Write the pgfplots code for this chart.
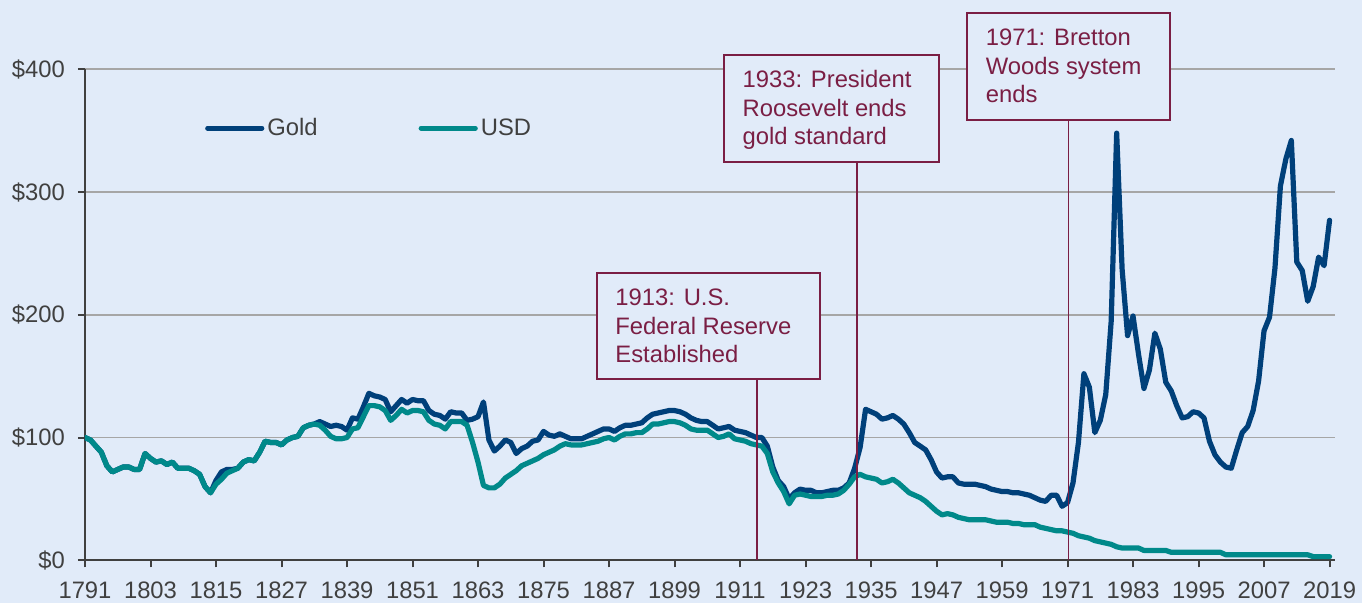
\documentclass[border=0pt]{standalone}
\usepackage{fontspec}
\setmainfont{Liberation Sans}
\usepackage{pgfplots}
\usepackage{pgfplotstable}
\pgfplotsset{compat=1.18}
\definecolor{bg}{RGB}{225,235,249}
\definecolor{cgold}{RGB}{0,64,122}
\definecolor{cusd}{RGB}{0,137,138}
\definecolor{cnote}{RGB}{122,30,68}
\definecolor{ctext}{RGB}{64,64,64}
\definecolor{cgrid}{RGB}{166,166,166}

% purchasing power, 1791 = 100
\pgfplotstableread{
year gold usd
1791 100 100
1792 98 98
1793 93 93
1794 88 88
1795 77 77
1796 72 72
1797 74 74
1798 76 76
1799 76 76
1800 74 74
1801 74 74
1802 87 87
1803 83 83
1804 80 80
1805 81 81
1806 78 78
1807 80 80
1808 75 75
1809 75 75
1810 75 75
1811 73 73
1812 70 70
1813 60 60
1814 55 55
1815 65 62
1816 72 66
1817 74 71
1818 74 73
1819 75 75
1820 80 80
1821 82 82
1822 81 81
1823 88 88
1824 97 97
1825 96 96
1826 96 96
1827 94 94
1828 98 98
1829 100 100
1830 101 101
1831 108 108
1832 110 110
1833 111 111
1834 113 110
1835 111 106
1836 109 101
1837 110 99
1838 109 99
1839 106 100
1840 116 107
1841 115 108
1842 125 117
1843 136 126
1844 134 126
1845 133 125
1846 131 122
1847 121 114
1848 126 118
1849 131 123
1850 128 120
1851 131 122
1852 130 122
1853 130 121
1854 122 114
1855 119 111
1856 118 110
1857 115 107
1858 121 113
1859 120 113
1860 120 113
1861 114 110
1862 115 96
1863 117 80
1864 129 61
1865 98 59
1866 89 59
1867 93 62
1868 98 67
1869 96 70
1870 87 73
1871 91 77
1872 93 79
1873 97 81
1874 98 83
1875 105 86
1876 102 88
1877 101 90
1878 103 93
1879 101 95
1880 99 94
1881 99 94
1882 99 94
1883 101 95
1884 103 96
1885 105 97
1886 107 99
1887 107 100
1888 105 98
1889 108 101
1890 110 103
1891 110 103
1892 111 104
1893 112 104
1894 116 107
1895 119 111
1896 120 111
1897 121 112
1898 122 113
1899 122 113
1900 121 112
1901 119 110
1902 116 107
1903 114 106
1904 113 106
1905 113 106
1906 110 103
1907 107 100
1908 108 101
1909 109 103
1910 106 99
1911 105 98
1912 104 97
1913 102 95
1914 100 94
1915 100 93
1916 93 87
1917 76 72
1918 65 63
1919 60 56
1920 50 46
1921 55 53
1922 58 54
1923 57 53
1924 57 52
1925 55 52
1926 55 52
1927 56 53
1928 57 53
1929 57 54
1930 59 57
1931 63 62
1932 75 68
1933 92 70
1934 123 68
1935 121 67
1936 119 66
1937 115 63
1938 116 64
1939 118 66
1940 115 63
1941 111 59
1942 104 55
1943 96 53
1944 93 51
1945 90 48
1946 82 44
1947 72 40
1948 67 37
1949 68 38
1950 68 37
1951 63 35
1952 62 34
1953 62 33
1954 62 33
1955 61 33
1956 60 33
1957 58 32
1958 57 31
1959 56 31
1960 56 31
1961 55 30
1962 55 30
1963 54 29
1964 53 29
1965 51 29
1966 49 27
1967 48 26
1968 53 25
1969 53 24
1970 44 24
1971 47 23
1972 63 22
1973 96 20
1974 152 19
1975 141 18
1976 104 16
1977 114 15
1978 135 14
1979 195 13
1980 348 11
1981 237 10
1982 183 10
1983 199 10
1984 168 10
1985 140 8
1986 155 8
1987 185 8
1988 172 8
1989 145 8
1990 138 6.5
1991 126 6.5
1992 116 6.5
1993 117 6.5
1994 121 6.5
1995 120 6.5
1996 116 6.5
1997 97 6.5
1998 86 6.5
1999 80 6.5
2000 76 4.5
2001 75 4.5
2002 90 4.5
2003 104 4.5
2004 109 4.5
2005 122 4.5
2006 146 4.5
2007 187 4.5
2008 198 4.5
2009 238 4.5
2010 305 4.5
2011 327 4.5
2012 342 4.5
2013 243 4.5
2014 236 4.5
2015 211 4.5
2016 223 3
2017 247 3
2018 240 3
2019 277 3
}\valuetable

\begin{document}
\begin{tikzpicture}
\fill[bg] (-42.5pt,-21.35pt) rectangle (638.5pt,280.15pt);
\path[use as bounding box] (-42.5pt,-21.35pt) rectangle (638.5pt,280.15pt);
\begin{axis}[
  at={(0pt,0pt)}, anchor=south west,
  scale only axis, width=625pt, height=245.5pt,
  xmin=1791, xmax=2020, ymin=0, ymax=400, enlargelimits=false,
  axis lines=left, axis line style={ctext,line width=1pt,-},
  xtick={1791,1803,...,2019}, ytick={0,100,...,400},
  tick align=outside, major tick length=3.5pt,
  tick style={ctext,line width=1pt},
  ymajorgrids, grid style={cgrid,line width=0.8pt},
  /pgf/number format/assume math mode=true,
  /pgf/number format/1000 sep={},
  yticklabel={\$\pgfmathprintnumber{\tick}},
  ticklabel style={font=\fontsize{11.9}{14}\selectfont,text=ctext},
  xticklabel style={yshift=-4pt},
  yticklabel style={xshift=-3pt},
  legend columns=2,
  legend style={draw=none,fill=none,at={(0.091,0.88)},anchor=west,
    font=\fontsize{11.9}{14}\selectfont,text=ctext,
    nodes={inner xsep=1.5pt},
    /tikz/every even column/.append style={column sep=49pt}},
  legend image code/.code={\draw[#1] (0pt,0pt) -- (27pt,0pt);},
  every axis plot/.append style={line width=2.6pt,line cap=round,line join=round},
]
\addplot[cgold] table[x=year,y=gold] {\valuetable};
\addplot[cusd] table[x=year,y=usd] {\valuetable};
\legend{Gold,USD}
\end{axis}

% event markers
\begin{scope}[cnote,line width=0.9pt]
\draw (335.8pt,0pt) -- (335.8pt,90.5pt);
\draw (386pt,0pt) -- (386pt,199.15pt);
\draw (491.7pt,0pt) -- (491.7pt,220.3pt);
\filldraw[fill=bg] (256.15pt,90.5pt) rectangle (367.5pt,143.5pt);
\filldraw[fill=bg] (319.5pt,199.15pt) rectangle (427.15pt,252.65pt);
\filldraw[fill=bg] (441.15pt,220.3pt) rectangle (542.5pt,273.8pt);
\end{scope}
\begin{scope}[every node/.style={anchor=base west,inner sep=0pt,text=cnote,
    font=\fontsize{11.9}{14}\selectfont}]
\node at (265pt,127.15pt) {1913: U.S.};
\node at (265pt,112.95pt) {Federal Reserve};
\node at (265pt,98.75pt) {Established};
\node at (328.6pt,236.3pt) {1933: President};
\node at (328.6pt,222.1pt) {Roosevelt ends};
\node at (328.6pt,207.9pt) {gold standard};
\node at (450.2pt,257.15pt) {1971: Bretton};
\node at (450.2pt,242.95pt) {Woods system};
\node at (450.2pt,228.75pt) {ends};
\end{scope}
\end{tikzpicture}
\end{document}
